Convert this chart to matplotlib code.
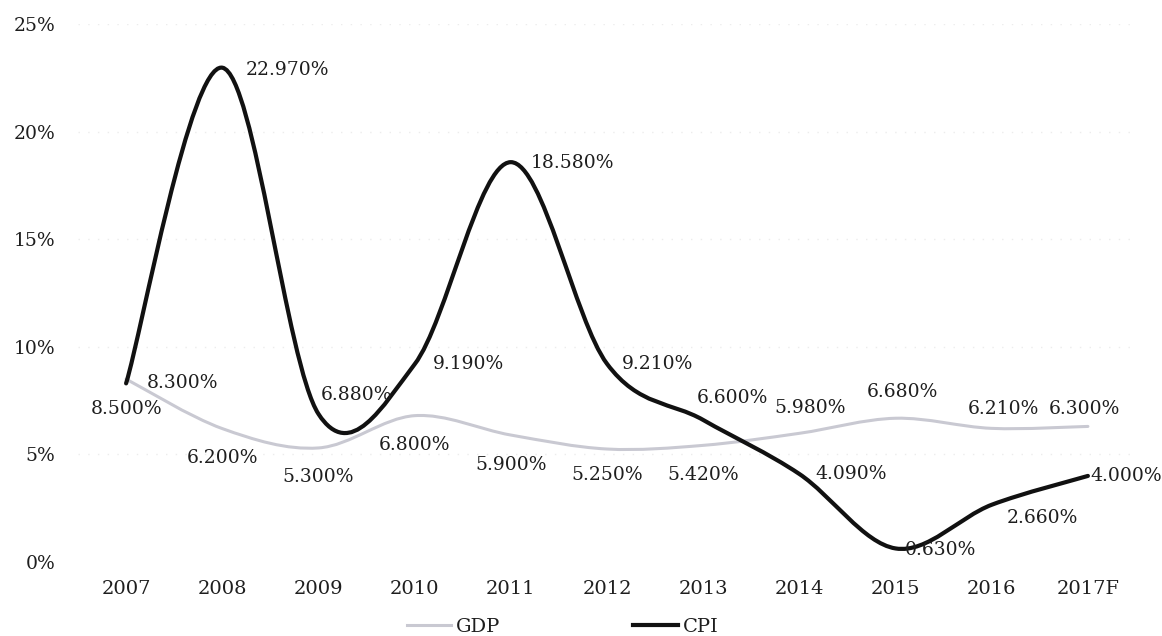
import matplotlib
matplotlib.use('Agg')
import matplotlib.pyplot as plt
from matplotlib.path import Path
from matplotlib.patches import PathPatch
from matplotlib.lines import Line2D

# ---------------- data ----------------
years = ['2007', '2008', '2009', '2010', '2011', '2012', '2013', '2014', '2015', '2016', '2017F']
gdp = [8.5, 6.2, 5.3, 6.8, 5.9, 5.25, 5.42, 5.98, 6.68, 6.21, 6.3]
cpi = [8.3, 22.97, 6.88, 9.19, 18.58, 9.21, 6.6, 4.09, 0.63, 2.66, 4.0]
yticks = [0, 5, 10, 15, 20, 25]

# label offsets in pixels (dx, dy; dy positive = up)
gdp_off = [(0, -30), (0, -29), (0, -29), (0, -29), (0, -30), (0, -26), (0, -30),
           (11, 25), (7, 26), (12, 19), (-3, 17)]
cpi_off = [(21, 0), (23, -2), (2, 19), (18, 0), (20, -1), (15, 0), (-6, 22),
           (16, 0), (9, -2), (15, -13), (2, 0)]

FONT = 'DejaVu Serif'
TXT = '#1e1e1e'
GDP_COLOR = '#c9c9d2'
CPI_COLOR = '#111111'

fig = plt.figure(figsize=(11.62, 6.36), dpi=100)
ax = fig.add_axes([78 / 1162, 1 - 562 / 636, (1136 - 78) / 1162, (562 - 24) / 636])

x = list(range(len(years)))


def smooth_path(xs, ys, t=1 / 6):
    n = len(xs)
    verts = [(xs[0], ys[0])]
    codes = [Path.MOVETO]
    for i in range(n - 1):
        im1 = max(i - 1, 0)
        ip2 = min(i + 2, n - 1)
        c1 = (xs[i] + (xs[i + 1] - xs[im1]) * t, ys[i] + (ys[i + 1] - ys[im1]) * t)
        c2 = (xs[i + 1] - (xs[ip2] - xs[i]) * t, ys[i + 1] - (ys[ip2] - ys[i]) * t)
        verts += [c1, c2, (xs[i + 1], ys[i + 1])]
        codes += [Path.CURVE4] * 3
    return Path(verts, codes)


ax.add_patch(PathPatch(smooth_path(x, gdp), facecolor='none', edgecolor=GDP_COLOR,
                       lw=2.2, capstyle='round', zorder=3))
ax.add_patch(PathPatch(smooth_path(x, cpi), facecolor='none', edgecolor=CPI_COLOR,
                       lw=3.0, capstyle='round', joinstyle='round', zorder=4))

ax.set_xlim(-0.5, len(years) - 0.5)
ax.set_ylim(0, 25)

for s in ax.spines.values():
    s.set_visible(False)

ax.set_yticks(yticks)
ax.set_yticklabels([f'{v}%' for v in yticks], fontfamily=FONT, fontsize=13.5, color=TXT)
ax.set_xticks(x)
ax.set_xticklabels(years, fontfamily=FONT, fontsize=14, color=TXT)
ax.tick_params(axis='y', length=0, pad=16.5)
ax.tick_params(axis='x', length=0, pad=13)

for v in yticks[1:]:
    ax.axhline(v, color='#ececec', lw=1.0, ls=(0, (1, 6)), zorder=1)

px = 0.72
for i, v in enumerate(gdp):
    dx, dy = gdp_off[i]
    ax.annotate(f'{v:.3f}%', (x[i], v), xytext=(dx * px, dy * px), textcoords='offset points',
                ha='center', va='center', fontfamily=FONT, fontsize=13.5, color=TXT, zorder=5)
for i, v in enumerate(cpi):
    dx, dy = cpi_off[i]
    ax.annotate(f'{v:.3f}%', (x[i], v), xytext=(dx * px, dy * px), textcoords='offset points',
                ha='left', va='center', fontfamily=FONT, fontsize=13.5, color=TXT, zorder=5)

handles = [Line2D([], [], color=GDP_COLOR, lw=2.2), Line2D([], [], color=CPI_COLOR, lw=3.0)]
fig.legend(handles, ['GDP', 'CPI'], loc='center', bbox_to_anchor=(0.484, 0.014), ncol=2,
           frameon=False, handlelength=2.3, handletextpad=0.25, columnspacing=6.8,
           prop={'family': FONT, 'size': 14}, labelcolor=TXT)

fig.savefig('out.png', dpi=100, facecolor='white')
